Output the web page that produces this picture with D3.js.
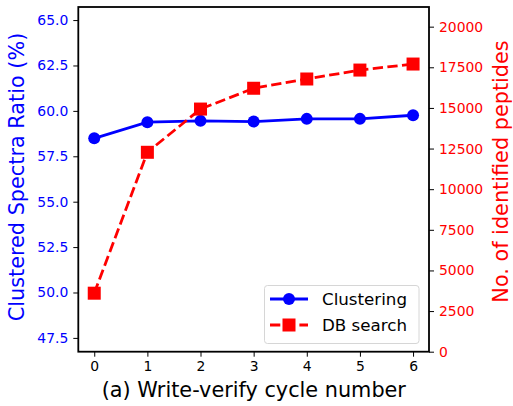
<!DOCTYPE html>
<html><head><meta charset="utf-8">
<script src="https://cdn.jsdelivr.net/npm/d3@7"></script>
<style>body{margin:0;background:#fff}svg{display:block;font-family:"DejaVu Sans",sans-serif}</style>
</head><body>
<script>
const cycles = [0, 1, 2, 3, 4, 5, 6];
const clusteringRatio = [58.49, 59.38, 59.45, 59.41, 59.56, 59.56, 59.76];
const dbSearchPeptides = [3600, 12270, 14930, 16210, 16780, 17330, 17700];
const leftTicks = [47.5, 50.0, 52.5, 55.0, 57.5, 60.0, 62.5, 65.0];
const rightTicks = [0, 2500, 5000, 7500, 10000, 12500, 15000, 17500, 20000];
const xTicks = [0, 1, 2, 3, 4, 5, 6];
const seriesNames = ["Clustering", "DB search"];

const W = 513, H = 406;
const m = {l: 78.3, r: 429, t: 7, b: 351.7};
const FF = "DejaVu Sans";
const svg = d3.select("body").append("svg").attr("width", W).attr("height", H).attr("font-family", FF);

const x = d3.scaleLinear().domain([-0.3, 6.3]).range([m.l, m.r]);
const yL = d3.scaleLinear().domain([46.74, 65.72]).range([m.b, m.t]);
const yR = d3.scaleLinear().domain([0, 21210]).range([m.b, m.t]);

const blue = "#0000ff", red = "#ff0000";
const tickFS = 13.9;
const LW = 2.8, DASH = "10.3,4.4";

// axes
const ax = svg.append("g").attr("transform", `translate(0,${m.b})`)
  .call(d3.axisBottom(x).tickValues(xTicks).tickFormat(d3.format("d")).tickSize(5).tickPadding(4.5));
ax.select(".domain").remove();
ax.selectAll("text").attr("font-size", tickFS).attr("fill", "#000").attr("font-family", FF);
ax.selectAll("line").attr("stroke", "#000").attr("stroke-width", 1);

const al = svg.append("g").attr("transform", `translate(${m.l},0)`)
  .call(d3.axisLeft(yL).tickValues(leftTicks).tickFormat(d3.format(".1f")).tickSize(5).tickPadding(5));
al.select(".domain").remove();
al.selectAll("text").attr("font-size", tickFS).attr("fill", blue).attr("font-family", FF);
al.selectAll("line").attr("stroke", "#000");

const ar = svg.append("g").attr("transform", `translate(${m.r},0)`)
  .call(d3.axisRight(yR).tickValues(rightTicks).tickFormat(d3.format("d")).tickSize(5).tickPadding(5));
ar.select(".domain").remove();
ar.selectAll("text").attr("font-size", tickFS).attr("fill", red).attr("font-family", FF);
ar.selectAll("line").attr("stroke", "#000");

// lines
const lineL = d3.line().x((d, i) => x(cycles[i])).y(d => yL(d));
const lineR = d3.line().x((d, i) => x(cycles[i])).y(d => yR(d));

svg.append("path").datum(clusteringRatio).attr("d", lineL)
  .attr("fill", "none").attr("stroke", blue).attr("stroke-width", LW);
svg.selectAll("circle.pt").data(clusteringRatio).enter().append("circle")
  .attr("cx", (d, i) => x(cycles[i])).attr("cy", d => yL(d)).attr("r", 6).attr("fill", blue);

svg.append("path").datum(dbSearchPeptides).attr("d", lineR)
  .attr("fill", "none").attr("stroke", red).attr("stroke-width", LW).attr("stroke-dasharray", DASH);
const sq = 13;
svg.selectAll("rect.pt").data(dbSearchPeptides).enter().append("rect")
  .attr("x", (d, i) => x(cycles[i]) - sq / 2).attr("y", d => yR(d) - sq / 2)
  .attr("width", sq).attr("height", sq).attr("fill", red);

// frame
svg.append("rect").attr("x", m.l).attr("y", m.t).attr("width", m.r - m.l).attr("height", m.b - m.t)
  .attr("fill", "none").attr("stroke", "#000").attr("stroke-width", 1.8);

// legend
const lg = svg.append("g");
lg.append("rect").attr("x", 264.5).attr("y", 285.5).attr("width", 154.5).attr("height", 58)
  .attr("rx", 3).attr("fill", "#fff").attr("fill-opacity", 0.8).attr("stroke", "#d6d6d6").attr("stroke-width", 1);
const rows = [299, 325];
lg.append("line").attr("x1", 270).attr("x2", 308).attr("y1", rows[0]).attr("y2", rows[0])
  .attr("stroke", blue).attr("stroke-width", LW);
lg.append("circle").attr("cx", 289).attr("cy", rows[0]).attr("r", 6).attr("fill", blue);
lg.append("line").attr("x1", 270).attr("x2", 308).attr("y1", rows[1]).attr("y2", rows[1])
  .attr("stroke", red).attr("stroke-width", LW).attr("stroke-dasharray", DASH);
lg.append("rect").attr("x", 289 - sq / 2).attr("y", rows[1] - sq / 2).attr("width", sq).attr("height", sq).attr("fill", red);
seriesNames.forEach((n, i) => {
  lg.append("text").attr("x", 322).attr("y", rows[i]).attr("dy", "0.36em")
    .attr("font-size", 16.7).attr("fill", "#000").text(n);
});

// labels
svg.append("text").attr("x", 253.8).attr("y", 397)
  .attr("text-anchor", "middle").attr("font-size", 20.8).attr("fill", "#000").text("(a) Write-verify cycle number");
svg.append("text").attr("transform", `translate(23.5,177) rotate(-90)`)
  .attr("text-anchor", "middle").attr("font-size", 20.8).attr("fill", blue).text("Clustered Spectra Ratio (%)");
svg.append("text").attr("transform", `translate(508,171.5) rotate(-90)`)
  .attr("text-anchor", "middle").attr("font-size", 20.8).attr("fill", red).text("No. of identified peptides");
</script>
</body></html>
